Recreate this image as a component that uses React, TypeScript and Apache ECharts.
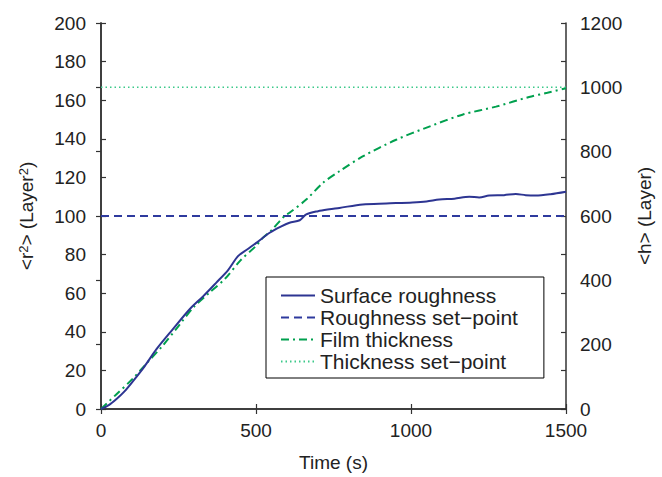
import React, { useEffect, useRef } from "react";
import * as echarts from "echarts";

const roughTime = [0, 25, 50, 75, 104, 140, 179, 230, 286, 330, 372, 410, 442, 470, 501, 544, 580, 608, 641, 662, 700, 737, 769, 844, 920, 1005, 1050, 1091, 1140, 1188, 1220, 1252, 1300, 1338, 1370, 1402, 1450, 1500];
const roughness = [0, 2, 5.2, 9, 14.6, 22, 31, 41, 51.7, 58.5, 65.5, 72, 79.2, 82.5, 86.1, 91.3, 94.5, 96.5, 97.8, 100.8, 102.5, 103.5, 104.2, 106, 106.5, 107, 107.5, 108.5, 109, 110, 109.6, 110.6, 110.8, 111.4, 110.8, 110.6, 111.3, 112.6];

const filmTime = [0, 50, 100, 150, 200, 250, 300, 350, 400, 450, 500, 522, 550, 592, 608, 662, 716, 769, 844, 952, 1059, 1166, 1274, 1381, 1440, 1500];
const filmThickness = [0, 46, 92, 145, 198, 258, 318, 362, 405, 462, 507, 532, 556, 600, 610, 651, 703, 739, 785, 837, 878, 915, 940, 970, 983, 997];

const setTime = [0, 1500];
const roughSetPoint = [100, 100];
const thickSetPoint = [1000, 1000];

const xTicks = { min: 0, max: 1500, interval: 500 };
const leftTicks = { min: 0, max: 200, interval: 20 };
const rightTicks = { min: 0, max: 1200, interval: 200 };

const FONT = "Liberation Sans, Arial, Helvetica, sans-serif";
const TXT = "#222";
const AX = "#333";

export default function App() {
  const ref = useRef<HTMLDivElement>(null);
  useEffect(() => {
    if (!ref.current) return;
    const chart = echarts.init(ref.current, undefined, { renderer: "svg" });
    const zip = (a: number[], b: number[]) => a.map((t, i) => [t, b[i]]);
    const axisLine = { show: true, lineStyle: { color: AX, width: 1.5 } };
    const tick = { show: true, inside: true, length: 5, lineStyle: { color: AX, width: 1.2 } };
    const label = { fontSize: 19, color: TXT, fontFamily: FONT, formatter: (v: number) => String(v) };
    chart.setOption({
      animation: false,
      textStyle: { fontFamily: FONT },
      grid: { left: 101, right: 95, top: 23, bottom: 67, containLabel: false },
      legend: {
        orient: "vertical",
        left: 266,
        top: 277,
        itemWidth: 34,
        itemHeight: 14,
        itemGap: 1,
        padding: [8, 26, 6, 14],
        borderColor: "#000",
        borderWidth: 1,
        backgroundColor: "#fff",
        itemStyle: { opacity: 0 },
        textStyle: { fontSize: 21, color: TXT, fontFamily: FONT },
        data: ["Surface roughness", "Roughness set\u2212point", "Film thickness", "Thickness set\u2212point"],
      },
      xAxis: [
        {
          type: "value",
          ...xTicks,
          position: "bottom",
          axisLine,
          axisTick: tick,
          splitLine: { show: false },
          axisLabel: { ...label, margin: 12 },
          name: "Time (s)",
          nameLocation: "middle",
          nameGap: 44,
          nameTextStyle: { fontSize: 19, color: TXT, fontFamily: FONT },
        },
        {
          type: "value",
          ...xTicks,
          position: "top",
          axisLine,
          axisTick: tick,
          splitLine: { show: false },
          axisLabel: { show: false },
        },
      ],
      yAxis: [
        {
          type: "value",
          ...leftTicks,
          position: "left",
          axisLine,
          axisTick: tick,
          splitLine: { show: false },
          axisLabel: { ...label, margin: 15 },
          name: "{a|<r}{s|2}{a|> (Layer}{s|2}{a|)}",
          nameLocation: "middle",
          nameGap: 65,
          nameTextStyle: {
            color: TXT,
            fontFamily: FONT,
            rich: {
              a: { fontSize: 19, color: TXT, fontFamily: FONT },
              s: { fontSize: 13, color: TXT, fontFamily: FONT, verticalAlign: "top" },
            },
          },
        },
        {
          type: "value",
          ...rightTicks,
          position: "right",
          offset: 0,
          axisLine,
          axisTick: tick,
          splitLine: { show: false },
          axisLabel: { ...label, margin: 14 },
          name: "<h> (Layer)",
          nameLocation: "middle",
          nameGap: 69,
          nameRotate: 90,
          nameTextStyle: { fontSize: 19, color: TXT, fontFamily: FONT },
        },
        {
          type: "value",
          ...leftTicks,
          position: "right",
          offset: 0,
          axisLine,
          axisTick: tick,
          splitLine: { show: false },
          axisLabel: { show: false },
        },
      ],
      series: [
        {
          name: "Surface roughness",
          type: "line",
          xAxisIndex: 0,
          yAxisIndex: 0,
          data: zip(roughTime, roughness),
          symbol: "none",
          smooth: 0.3,
          lineStyle: { color: "#2d3592", width: 2 },
          itemStyle: { color: "#2d3592" },
          z: 4,
        },
        {
          name: "Roughness set\u2212point",
          type: "line",
          xAxisIndex: 0,
          yAxisIndex: 0,
          data: zip(setTime, roughSetPoint),
          symbol: "none",
          lineStyle: { color: "#2e3a9e", width: 2, type: [8, 5] },
          itemStyle: { color: "#2e3a9e" },
          z: 3,
        },
        {
          name: "Film thickness",
          type: "line",
          xAxisIndex: 0,
          yAxisIndex: 1,
          data: zip(filmTime, filmThickness),
          symbol: "none",
          smooth: 0.3,
          lineStyle: { color: "#00a04e", width: 2, type: [8, 4, 2, 4] },
          itemStyle: { color: "#00a04e" },
          z: 3,
        },
        {
          name: "Thickness set\u2212point",
          type: "line",
          xAxisIndex: 0,
          yAxisIndex: 1,
          data: zip(setTime, thickSetPoint),
          symbol: "none",
          lineStyle: { color: "#3cc98a", width: 1.5, type: [1.5, 3] },
          itemStyle: { color: "#3cc98a" },
          z: 2,
        },
      ],
    });
    return () => chart.dispose();
  }, []);
  return <div ref={ref} style={{ width: 662, height: 477, position: "absolute", left: 0, top: 0 }} />;
}
